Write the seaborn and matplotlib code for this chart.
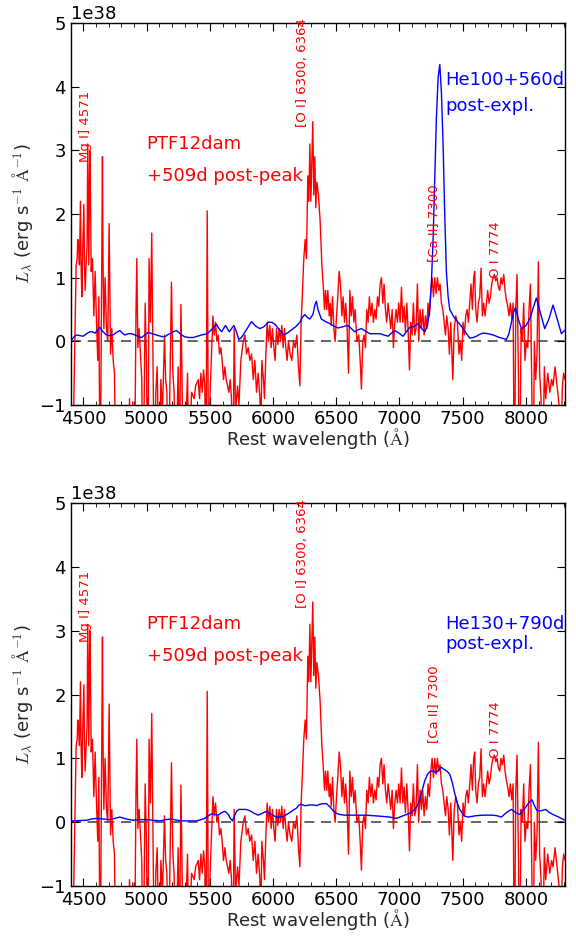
import numpy as np
import pandas as pd
import matplotlib
matplotlib.use("Agg")
import matplotlib.pyplot as plt
import seaborn as sns
from matplotlib.ticker import MultipleLocator

# ---------------- data (luminosity in units of 1e38 erg/s/A) ----------------
red_wave = [4395, 4410, 4442, 4450, 4455, 4462, 4468, 4476, 4482, 4487, 4495, 4503, 4508, 4513, 4521,
            4528, 4534, 4542, 4550, 4556, 4561, 4571, 4582, 4592, 4603, 4613, 4621, 4632, 4642, 4650,
            4655, 4661, 4671, 4682, 4692, 4703, 4714, 4724, 4735, 4745, 4758, 4775, 4790, 4805, 4820,
            4835, 4850, 4864, 4877, 4890, 4903, 4915, 4922, 4930, 4940, 4951, 4961, 4972, 4988, 4998,
            5009, 5019, 5030, 5040, 5051, 5062, 5072, 5083, 5092, 5101, 5112, 5125, 5141, 5150, 5160,
            5170, 5185, 5196, 5207, 5217, 5228, 5249, 5260, 5271, 5281, 5292, 5310, 5323, 5334, 5355,
            5376, 5387, 5408, 5418, 5429, 5439, 5450, 5460, 5468, 5479, 5490, 5500, 5513, 5524, 5534,
            5545, 5555, 5566, 5576, 5587, 5597, 5608, 5619, 5629, 5640, 5650, 5661, 5671, 5682, 5692,
            5703, 5719, 5730, 5745, 5764, 5777, 5790, 5803, 5816, 5830, 5843, 5856, 5869, 5882, 5896,
            5903, 5911, 5924, 5932, 5943, 5953, 5964, 5974, 5985, 5995, 6006, 6016, 6027, 6038, 6048,
            6059, 6069, 6080, 6090, 6101, 6111, 6122, 6135, 6148, 6162, 6175, 6188, 6201, 6212, 6222,
            6233, 6243, 6254, 6264, 6275, 6283, 6291, 6299, 6307, 6314, 6322, 6330, 6338, 6346, 6359,
            6372, 6386, 6396, 6407, 6415, 6425, 6433, 6444, 6452, 6460, 6470, 6481, 6491, 6502, 6512,
            6523, 6533, 6544, 6554, 6565, 6575, 6586, 6597, 6607, 6618, 6628, 6639, 6649, 6663, 6678,
            6689, 6699, 6710, 6720, 6731, 6741, 6752, 6762, 6773, 6783, 6794, 6805, 6815, 6826, 6836,
            6847, 6857, 6868, 6878, 6889, 6899, 6910, 6921, 6931, 6942, 6952, 6963, 6973, 6984, 6994,
            7005, 7016, 7026, 7037, 7047, 7058, 7068, 7079, 7089, 7100, 7110, 7121, 7131, 7142, 7152,
            7163, 7174, 7184, 7195, 7205, 7216, 7226, 7237, 7248, 7258, 7269, 7279, 7290, 7300, 7311,
            7321, 7332, 7343, 7353, 7364, 7374, 7385, 7395, 7406, 7422, 7433, 7445, 7458, 7471, 7482,
            7492, 7503, 7514, 7524, 7535, 7545, 7556, 7566, 7577, 7587, 7595, 7603, 7614, 7624, 7635,
            7645, 7656, 7666, 7677, 7688, 7698, 7709, 7719, 7730, 7740, 7751, 7761, 7772, 7783, 7793,
            7804, 7814, 7825, 7835, 7846, 7856, 7867, 7877, 7888, 7899, 7909, 7920, 7930, 7941, 7951,
            7962, 7972, 7983, 7993, 8004, 8015, 8025, 8036, 8046, 8057, 8067, 8078, 8088, 8099, 8109,
            8120, 8131, 8146, 8157, 8173, 8189, 8204, 8215, 8231, 8247, 8257, 8268, 8278, 8289, 8299,
            8310]
red_flux = [-2.5, -2.5, 1.2, 1.3, 1.6, 1.45, 1.2, 2.2, 1.1, 0.7, 1.5, 2.15, 1.2, 0.8, 1.2,
            1.5, 3.1, 1.2, 3.0, 2.2, 1.1, 1.3, 0.4, 1.1, 0.3, -0.3, 0.7, -2.5, 0.5, 2.9,
            1.2, 0.2, 1.0, 0.2, 0.0, 1.85, -0.2, 0.2, -0.3, -0.5, -2.5, -1.5, -2.0, -1.3, -2.5,
            -1.4, -2.5, -0.9, -2.0, -0.95, -2.5, 0.4, 1.3, -0.1, 0.2, -0.2, -0.6, -2.5, 0.6, -0.3,
            -2.5, 1.3, 0.3, 1.7, -0.5, -2.5, -0.8, -0.4, -1.5, -2.5, -0.6, -1.1, 0.1, -0.6, -0.8,
            -2.5, -0.5, 0.93, -0.5, -0.8, -2.5, -0.4, -2.0, 0.58, -0.8, -2.5, -1.4, -0.5, -2.0, -0.8,
            -0.9, -0.7, -0.6, -0.9, -0.5, -0.8, -0.45, -0.7, -2.5, 2.05, -2.5, -0.9, -0.2, 0.4, 0.1,
            0.3, 0.0, 0.1, -0.2, -0.1, -0.3, -0.6, -0.4, -0.6, -0.7, -0.8, -0.6, -0.9, -2.5, 0.2,
            -1.1, -0.7, -1.0, -0.3, 0.0, 0.1, -0.2, -0.1, -0.3, -0.2, -0.6, -0.3, -0.8, -0.5, -0.9,
            -1.6, -0.3, -0.6, -0.9, -0.2, 0.3, 0.0, 0.25, -0.1, 0.2, -0.1, -0.3, 0.2, -0.05, 0.2,
            0.0, 0.25, -0.1, 0.2, -0.1, -0.3, 0.0, -0.2, -0.3, 0.0, -0.1, 0.1, -0.4, -0.7, 0.3,
            0.8, 1.3, 1.6, 1.3, 2.6, 2.2, 3.1, 2.2, 2.9, 3.45, 2.3, 2.9, 2.1, 2.5, 2.3,
            1.9, 1.2, 0.9, 0.5, 0.8, 0.5, 0.8, 0.4, 0.6, 0.25, 0.7, 0.2, 0.0, 0.4, 0.7,
            1.1, 0.9, 0.4, 0.7, 0.3, 0.6, 0.2, -0.5, 0.8, 0.4, 0.7, 0.3, 0.5, 0.0, 0.1,
            -0.3, -0.75, 0.0, 0.1, -0.1, 0.5, 0.3, 0.7, 0.4, 0.6, 0.3, 0.5, 0.35, 0.7, 0.55,
            0.9, 1.0, 0.6, 0.9, 0.5, 0.3, 0.6, 0.4, 0.2, 0.5, -0.1, 0.3, 0.5, 0.3, 0.6,
            0.3, 0.85, 0.3, 0.55, 0.15, 0.6, 0.2, -0.45, 0.3, 0.1, 0.6, 0.1, 0.2, 0.9, 0.0,
            0.5, 0.2, 0.5, 0.1, 0.4, 0.2, 0.6, 0.4, 0.8, 1.0, 0.7, 1.0, 0.75, 1.0, 0.8,
            0.9, 0.6, 0.5, 0.3, 0.1, 0.4, 0.2, -0.2, 0.3, -0.6, 0.2, 0.4, 0.3, -0.2, 0.0,
            -0.3, 0.3, 0.1, 0.4, 0.5, 0.3, 0.6, 0.9, 0.5, 1.0, 1.1, 0.5, 0.3, 0.6, 0.7,
            1.15, 0.4, 0.6, 0.4, 0.6, 0.8, 0.6, 0.7, 0.9, 1.0, 1.05, 0.95, 1.0, 0.85, 0.8,
            1.0, 0.9, 1.05, 0.8, 0.65, 0.55, 0.4, 0.6, 0.35, 0.6, -2.5, 0.5, 1.05, -0.5, -2.5,
            0.2, 0.0, 0.6, -0.3, 0.0, -0.1, 0.5, 0.9, -0.6, -2.5, 0.0, -0.6, -0.2, 1.25, -0.5,
            -0.9, -2.5, -0.4, -0.9, -0.5, -0.8, -0.6, -0.7, -0.4, -0.7, -0.9, -1.1, -1.6, -0.7, -0.5,
            -0.6]

he100_wave = [4405, 4425, 4445, 4470, 4498, 4525, 4550, 4570, 4590, 4610, 4629, 4655, 4682, 4708,
              4735, 4760, 4788, 4808, 4827, 4853, 4880, 4920, 4959, 4985, 5012, 5045, 5078, 5110,
              5144, 5163, 5183, 5210, 5236, 5270, 5302, 5335, 5368, 5400, 5434, 5460, 5486, 5520,
              5552, 5572, 5592, 5608, 5624, 5638, 5653, 5672, 5690, 5710, 5729, 5745, 5763, 5795,
              5829, 5862, 5895, 5928, 5961, 5988, 6014, 6050, 6085, 6120, 6159, 6185, 6212, 6232,
              6251, 6270, 6290, 6315, 6332, 6343, 6355, 6382, 6415, 6448, 6480, 6514, 6553, 6593,
              6620, 6646, 6672, 6699, 6732, 6765, 6805, 6844, 6877, 6910, 6937, 6963, 6995, 7028,
              7055, 7081, 7114, 7147, 7175, 7200, 7222, 7239, 7252, 7266, 7280, 7292, 7306, 7319,
              7332, 7345, 7358, 7371, 7385, 7398, 7425, 7450, 7477, 7503, 7530, 7556, 7582, 7609,
              7635, 7661, 7700, 7740, 7793, 7846, 7866, 7886, 7902, 7917, 7940, 7965, 7998, 8031,
              8057, 8083, 8115, 8149, 8182, 8215, 8248, 8281, 8310]
he100_flux = [0.02, 0.07, 0.1, 0.09, 0.08, 0.12, 0.15, 0.15, 0.13, 0.17, 0.22, 0.15, 0.1, 0.09,
              0.1, 0.14, 0.17, 0.13, 0.1, 0.12, 0.12, 0.09, 0.06, 0.1, 0.14, 0.12, 0.1, 0.08,
              0.07, 0.1, 0.12, 0.15, 0.17, 0.11, 0.07, 0.06, 0.06, 0.08, 0.1, 0.11, 0.13, 0.2,
              0.27, 0.2, 0.15, 0.2, 0.25, 0.2, 0.15, 0.2, 0.25, 0.15, 0.03, 0.05, 0.1, 0.2,
              0.31, 0.24, 0.2, 0.23, 0.3, 0.3, 0.27, 0.18, 0.1, 0.14, 0.2, 0.24, 0.3, 0.38,
              0.42, 0.38, 0.35, 0.42, 0.58, 0.63, 0.5, 0.35, 0.31, 0.28, 0.24, 0.21, 0.23, 0.25,
              0.2, 0.15, 0.18, 0.2, 0.16, 0.12, 0.12, 0.12, 0.1, 0.08, 0.13, 0.17, 0.13, 0.08,
              0.15, 0.22, 0.23, 0.28, 0.2, 0.15, 0.25, 0.5, 0.9, 1.6, 2.6, 3.5, 4.15, 4.35,
              3.9, 3.1, 2.0, 1.1, 0.7, 0.5, 0.4, 0.33, 0.27, 0.2, 0.12, 0.05, 0.06, 0.08,
              0.11, 0.13, 0.12, 0.1, 0.06, 0.03, 0.12, 0.3, 0.45, 0.53, 0.35, 0.2, 0.24, 0.35,
              0.52, 0.68, 0.45, 0.2, 0.35, 0.57, 0.35, 0.12, 0.18]

he130_wave = [4405, 4465, 4524, 4563, 4603, 4656, 4709, 4748, 4788, 4840, 4893, 4946, 4999, 5052,
              5104, 5150, 5196, 5242, 5289, 5340, 5394, 5430, 5460, 5487, 5513, 5540, 5566, 5592,
              5618, 5632, 5645, 5662, 5679, 5695, 5711, 5730, 5750, 5783, 5816, 5849, 5882, 5915,
              5948, 5988, 6027, 6053, 6080, 6107, 6133, 6160, 6185, 6205, 6225, 6245, 6264, 6290,
              6317, 6343, 6370, 6396, 6422, 6450, 6475, 6500, 6527, 6567, 6607, 6672, 6738, 6804,
              6870, 6923, 6976, 7015, 7055, 7090, 7121, 7142, 7160, 7180, 7200, 7222, 7245, 7268,
              7292, 7312, 7332, 7350, 7375, 7398, 7418, 7437, 7457, 7477, 7510, 7543, 7600, 7661,
              7700, 7740, 7773, 7806, 7846, 7886, 7920, 7952, 7978, 8004, 8030, 8049, 8068, 8088,
              8122, 8157, 8186, 8215, 8260, 8310]
he130_flux = [0.02, 0.025, 0.03, 0.05, 0.06, 0.05, 0.04, 0.06, 0.08, 0.05, 0.03, 0.04, 0.04, 0.03,
              0.02, 0.04, 0.05, 0.03, 0.02, 0.02, 0.02, 0.04, 0.06, 0.1, 0.13, 0.12, 0.11, 0.15,
              0.17, 0.15, 0.12, 0.06, 0.02, 0.1, 0.17, 0.2, 0.2, 0.2, 0.18, 0.14, 0.11, 0.14,
              0.17, 0.12, 0.08, 0.08, 0.09, 0.12, 0.15, 0.19, 0.22, 0.27, 0.28, 0.26, 0.26, 0.27,
              0.27, 0.26, 0.28, 0.29, 0.29, 0.24, 0.18, 0.14, 0.12, 0.11, 0.11, 0.11, 0.11, 0.1,
              0.09, 0.08, 0.06, 0.09, 0.12, 0.15, 0.2, 0.26, 0.35, 0.5, 0.65, 0.75, 0.8, 0.8,
              0.78, 0.82, 0.86, 0.83, 0.8, 0.75, 0.62, 0.45, 0.3, 0.2, 0.1, 0.08, 0.1, 0.11,
              0.11, 0.11, 0.1, 0.08, 0.15, 0.2, 0.15, 0.12, 0.18, 0.25, 0.32, 0.35, 0.26, 0.18,
              0.18, 0.2, 0.15, 0.12, 0.08, 0.03]

line_labels = ["Mg I] 4571", "[O I] 6300, 6364", "[Ca II] 7300", "O I 7774"]
line_x = [4519, 6235, 7271, 7762]
line_y = [2.82, 3.36, 1.24, 1.0]

model_names = ["He100+560d", "He130+790d"]
SCALE = 1e38

# ---------------- style ----------------
sns.set_style("ticks")
plt.rcParams.update({
    "font.family": ["DejaVu Sans"],
    "font.size": 13,
    "mathtext.fontset": "cm",
    "xtick.direction": "in",
    "ytick.direction": "in",
    "xtick.top": True,
    "ytick.right": True,
    "xtick.major.size": 6,
    "ytick.major.size": 6,
    "xtick.minor.size": 3,
    "xtick.color": "black",
    "ytick.color": "black",
    "axes.edgecolor": "black",
    "axes.linewidth": 1.0,
    "xtick.labelsize": 13,
    "ytick.labelsize": 13,
})

fig = plt.figure(figsize=(5.76, 9.36), dpi=100)
ax1 = fig.add_axes([0.123, 0.5673, 0.858, 0.4081])
ax2 = fig.add_axes([0.123, 0.0534, 0.858, 0.4092])

red_df = pd.DataFrame({"wave": red_wave, "flux": np.array(red_flux) * SCALE})
models = [
    pd.DataFrame({"wave": he100_wave, "flux": np.array(he100_flux) * SCALE}),
    pd.DataFrame({"wave": he130_wave, "flux": np.array(he130_flux) * SCALE}),
]
model_text_y = [(4.1, 3.69), (3.11, 2.79)]

for ax, mdf, name, (ty1, ty2) in zip([ax1, ax2], models, model_names, model_text_y):
    ax.axhline(0, color="black", ls="--", lw=1.2, alpha=0.7, dashes=(6, 4), zorder=1)
    sns.lineplot(data=red_df, x="wave", y="flux", ax=ax, color="red", lw=1.0,
                 sort=False, estimator=None, zorder=2)
    sns.lineplot(data=mdf, x="wave", y="flux", ax=ax, color="blue", lw=1.0,
                 sort=False, estimator=None, zorder=3)
    ax.set_xlim(4400, 8310)
    ax.set_ylim(-1 * SCALE, 5 * SCALE)
    ax.xaxis.set_major_locator(MultipleLocator(500))
    ax.xaxis.set_minor_locator(MultipleLocator(100))
    ax.yaxis.set_major_locator(MultipleLocator(1 * SCALE))
    ax.set_xlabel(r"Rest wavelength ($\mathrm{\AA}$)", fontsize=13, labelpad=-1)
    ax.set_ylabel(r"$L_\lambda$ (erg s$^{-1}$ $\mathrm{\AA}^{-1}$)", fontsize=13, labelpad=3)
    ax.yaxis.get_offset_text().set_fontsize(13)

    ax.text(5000, 3.1 * SCALE, "PTF12dam", color="red", fontsize=13, va="center", ha="left")
    ax.text(5000, 2.6 * SCALE, "+509d post-peak", color="red", fontsize=13, va="center", ha="left")
    ax.text(7364, ty1 * SCALE, name, color="blue", fontsize=13, va="center", ha="left")
    ax.text(7364, ty2 * SCALE, "post-expl.", color="blue", fontsize=13, va="center", ha="left")
    for lab, lx, ly in zip(line_labels, line_x, line_y):
        ax.text(lx, ly * SCALE, lab, color="red", fontsize=9.5, rotation=90,
                ha="center", va="bottom", clip_on=False)

fig.savefig("out.png", dpi=100)
